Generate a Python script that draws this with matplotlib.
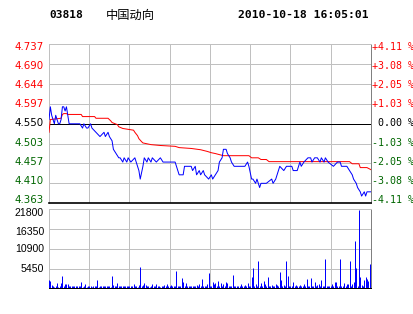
import matplotlib
matplotlib.use('Agg')
import matplotlib.pyplot as plt

# header
code = "03818"
name = "中国动向"
stamp = "2010-10-18 16:05:01"

# axis levels / labels
price_levels = [4.363, 4.410, 4.457, 4.503, 4.550, 4.597, 4.644, 4.690, 4.737]
pct_labels = ["-4.11 %", "-3.08 %", "-2.05 %", "-1.03 %", " 0.00 %",
              "+1.03 %", "+2.05 %", "+3.08 %", "+4.11 %"]
vol_levels = [5450, 10900, 16350, 21800]
time_pos = [0, 60, 120, 180, 240]
time_labels = ["10:00", "11:00", "12:00", "15:00", "16:00"]

# last price (minute index, price)
price_t = [0, 1, 2, 3, 4, 5, 6, 7, 8, 9, 10, 11, 12, 13, 14, 15, 16, 23, 25, 26,
           28, 29, 31, 32, 35, 38, 41, 42, 44, 45, 47, 48, 50, 52, 53, 55, 56, 58, 59, 61,
           64, 65, 67, 68, 70, 71, 73, 74, 76, 77, 80, 83, 85, 94, 96, 97, 100, 101, 106, 107,
           109, 110, 112, 113, 115, 116, 119, 121, 122, 124, 126, 127, 129, 130, 132, 133, 135, 136, 138, 146,
           148, 149, 151, 152, 154, 155, 157, 158, 162, 166, 167, 169, 171, 172, 175, 177, 181, 182, 185, 187,
           188, 190, 193, 195, 196, 198, 200, 202, 203, 205, 206, 208, 212, 215, 217, 218, 222, 224, 226, 227,
           229, 230, 232, 233, 235, 236, 237, 240]
price = [4.56, 4.59, 4.57, 4.56, 4.55, 4.57, 4.56, 4.55, 4.55, 4.56, 4.59, 4.59, 4.58, 4.59, 4.57, 4.55, 4.55, 4.55, 4.54, 4.55,
         4.54, 4.54, 4.55, 4.54, 4.53, 4.52, 4.53, 4.52, 4.53, 4.52, 4.51, 4.49, 4.48, 4.47, 4.47, 4.46, 4.47, 4.46, 4.47, 4.46,
         4.47, 4.46, 4.44, 4.42, 4.45, 4.47, 4.46, 4.47, 4.46, 4.47, 4.46, 4.47, 4.46, 4.46, 4.44, 4.43, 4.43, 4.45, 4.45, 4.44,
         4.45, 4.43, 4.44, 4.43, 4.44, 4.43, 4.42, 4.43, 4.42, 4.43, 4.44, 4.46, 4.47, 4.49, 4.49, 4.48, 4.47, 4.46, 4.45, 4.45,
         4.46, 4.45, 4.42, 4.42, 4.41, 4.42, 4.40, 4.41, 4.41, 4.42, 4.41, 4.42, 4.44, 4.45, 4.44, 4.45, 4.45, 4.44, 4.44, 4.46,
         4.45, 4.46, 4.47, 4.47, 4.46, 4.47, 4.47, 4.46, 4.47, 4.46, 4.47, 4.46, 4.45, 4.46, 4.46, 4.45, 4.45, 4.44, 4.43, 4.42,
         4.41, 4.40, 4.39, 4.38, 4.39, 4.38, 4.39, 4.39]

# average price
avg_t = [0, 1, 9, 10, 11, 13, 14, 24, 25, 34, 35, 44, 46, 47, 51, 52, 55, 63, 64, 66,
         67, 69, 70, 76, 83, 94, 97, 106, 113, 118, 121, 124, 130, 149, 151, 156, 158, 162, 164, 224,
         226, 231, 232, 237, 240]
avg = [4.530, 4.560, 4.563, 4.572, 4.574, 4.574, 4.572, 4.572, 4.567, 4.567, 4.563, 4.563, 4.557, 4.553, 4.548, 4.543, 4.539, 4.535, 4.530, 4.522,
       4.515, 4.508, 4.505, 4.501, 4.499, 4.497, 4.494, 4.492, 4.489, 4.485, 4.482, 4.480, 4.475, 4.475, 4.470, 4.470, 4.466, 4.466, 4.461, 4.461,
       4.456, 4.456, 4.447, 4.447, 4.442]

# volume per minute, minute 0..240
volume = [
    2300, 2000, 900, 700, 400, 600, 1400, 400, 600, 1400,
    3500, 500, 1100, 1100, 1100, 500, 600, 700, 500, 600,
    600, 500, 700, 600, 1700, 400, 600, 1300, 400, 600,
    500, 600, 400, 600, 500, 600, 2300, 400, 600, 500,
    600, 700, 500, 600, 500, 600, 400, 3400, 900, 600,
    700, 1400, 500, 700, 600, 700, 500, 600, 700, 600,
    500, 700, 600, 1100, 500, 700, 400, 800, 5800, 700,
    900, 1400, 900, 500, 600, 400, 600, 1100, 500, 600,
    1100, 500, 600, 400, 600, 500, 900, 600, 1100, 500,
    600, 900, 500, 600, 700, 4800, 500, 700, 600, 2900,
    1700, 600, 1400, 500, 600, 700, 500, 600, 500, 600,
    900, 500, 1100, 600, 2500, 500, 700, 600, 1100, 4200,
    600, 700, 1800, 1100, 1400, 700, 2000, 600, 1400, 700,
    1300, 600, 1700, 1400, 500, 700, 600, 3700, 500, 600,
    500, 700, 500, 1100, 600, 500, 900, 600, 1400, 500,
    700, 3200, 5700, 600, 1300, 500, 7400, 600, 1400, 700,
    2000, 1300, 600, 3200, 700, 500, 900, 600, 500, 1100,
    900, 600, 4600, 2300, 600, 900, 600, 7600, 3500, 500,
    700, 600, 1800, 500, 900, 600, 500, 900, 700, 500,
    1100, 600, 2600, 500, 700, 2900, 600, 500, 1700, 600,
    800, 1100, 500, 2300, 600, 500, 8100, 600, 500, 700,
    600, 1100, 500, 1700, 1800, 600, 500, 8100, 600, 700,
    1400, 600, 1100, 1300, 7400, 600, 1100, 1700, 13000, 5700,
    700, 21500, 3200, 1000, 700, 2300, 3000, 2600, 2000, 6700,
    6000,
]

GRID = '#c0c0c0'
RED = '#ff0000'
GREEN = '#006600'
PX = 0.72  # one pixel in points

W, H = 414, 314
fig = plt.figure(figsize=(W / 100, H / 100), dpi=100)
fig.patch.set_facecolor('white')

P_TOP, P_BOT = 44.3, 203.3
V_TOP, V_BOT = 209.3, 288.3


def level_color(p):
    if p > 4.55:
        return RED
    if p == 4.55:
        return 'black'
    return GREEN


# price panel
ax = fig.add_axes([49 / W, 1 - P_BOT / H, 322 / W, (P_BOT - P_TOP) / H])
ax.set_xlim(0, 240)
ax.set_ylim(price_levels[0], price_levels[-1])
ax.set_xticks(range(0, 241, 30))
ax.set_xticklabels([])
ax.set_yticks(price_levels)
ax.set_yticklabels([])
ax.tick_params(length=0)
ax.grid(color=GRID, lw=PX)
ax.set_axisbelow(True)
ax.axhline(4.550, color='black', lw=PX, zorder=2)
ax.plot(avg_t, avg, color=RED, lw=PX, zorder=3)
ax.plot(price_t, price, color='#0000ff', lw=PX, zorder=4)
for s in ('left', 'top'):
    ax.spines[s].set_color(GRID)
    ax.spines[s].set_linewidth(PX)
ax.spines['right'].set_color('#808080')
ax.spines['right'].set_linewidth(PX)
ax.spines['bottom'].set_color('black')
ax.spines['bottom'].set_linewidth(1.2)

# side labels sit slightly inside the top and bottom lines, as in the original
n = len(price_levels)
for i, (p, pct) in enumerate(zip(price_levels, pct_labels)):
    ypix = 200.0 - i * (200.0 - 46.7) / (n - 1)
    yf = (P_BOT - ypix) / (P_BOT - P_TOP)
    c = level_color(p)
    ax.text(-5 / 322, yf, f"{p:.3f}", transform=ax.transAxes, ha='right', va='center',
            fontfamily='DejaVu Sans', fontsize=7.4, color=c)
    ax.text(1 + 1 / 322, yf, pct, transform=ax.transAxes, ha='left', va='center',
            fontfamily='DejaVu Sans Mono', fontsize=7.2, color=c)

# volume panel
axv = fig.add_axes([49 / W, 1 - V_BOT / H, 322 / W, (V_BOT - V_TOP) / H])
axv.set_xlim(0, 240)
axv.set_ylim(0, 21800)
axv.set_xticks(range(0, 241, 30))
axv.set_xticklabels([])
axv.set_xticks(time_pos, minor=True)
axv.set_xticklabels(time_labels, minor=True, fontfamily='Liberation Sans', fontsize=7.6)
axv.set_yticks(vol_levels)
axv.set_yticklabels([])
axv.tick_params(which='both', length=0)
axv.tick_params(axis='x', which='minor', pad=3.5)
axv.grid(color=GRID, lw=PX)
axv.set_axisbelow(True)
axv.vlines(range(len(volume)), 0, volume, colors='#0000ff', lw=PX, zorder=3)
for s in ('left', 'top'):
    axv.spines[s].set_color(GRID)
    axv.spines[s].set_linewidth(PX)
axv.spines['right'].set_color('#808080')
axv.spines['right'].set_linewidth(PX)
axv.spines['bottom'].set_color('black')
axv.spines['bottom'].set_linewidth(PX)

vol_label_pix = [269.0, 249.5, 232.0, 212.5]
for v, ypix in zip(vol_levels, vol_label_pix):
    axv.text(-5 / 322, (V_BOT - ypix) / (V_BOT - V_TOP), str(v), transform=axv.transAxes,
             ha='right', va='center', fontfamily='Liberation Sans', fontsize=7.6)

# header
fig.text(49 / W, 1 - 15 / H, code, fontfamily='DejaVu Sans Mono', weight='bold',
         fontsize=8, va='center')
fig.text(106 / W, 1 - 15 / H, name, fontfamily=['Noto Sans CJK SC', 'DejaVu Sans'],
         fontsize=8.8, va='center')
fig.text(238 / W, 1 - 15 / H, stamp, fontfamily='DejaVu Sans Mono', weight='bold',
         fontsize=8.2, va='center')

fig.savefig('out.png', dpi=100)
